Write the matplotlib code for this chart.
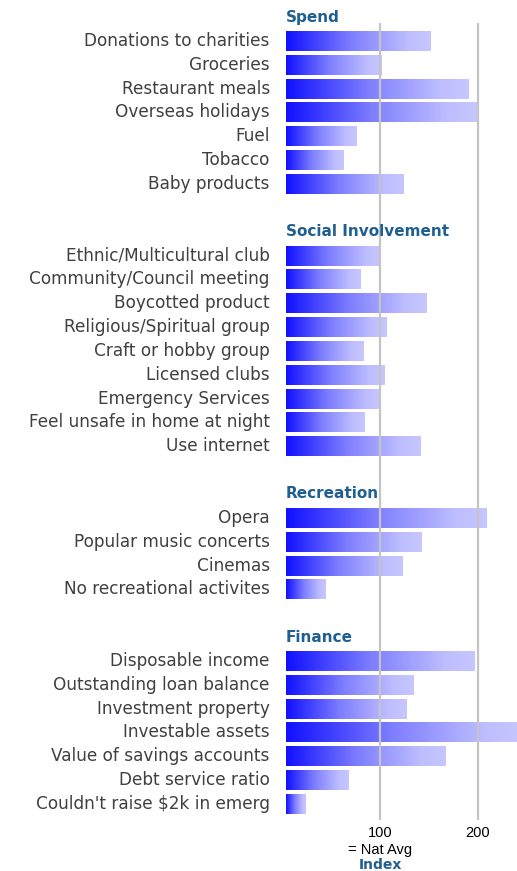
import matplotlib
matplotlib.use("Agg")
import matplotlib.pyplot as plt
import numpy as np
from matplotlib.colors import LinearSegmentedColormap

# ---- data ----
group_names = ["Spend", "Social Involvement", "Recreation", "Finance"]

spend_labels = ["Donations to charities", "Groceries", "Restaurant meals",
                "Overseas holidays", "Fuel", "Tobacco", "Baby products"]
spend_values = [152, 101, 191, 199, 76, 62, 124]

social_labels = ["Ethnic/Multicultural club", "Community/Council meeting",
                 "Boycotted product", "Religious/Spiritual group",
                 "Craft or hobby group", "Licensed clubs", "Emergency Services",
                 "Feel unsafe in home at night", "Use internet"]
social_values = [100, 80, 147, 106, 83, 104, 100, 84, 141]

recreation_labels = ["Opera", "Popular music concerts", "Cinemas",
                     "No recreational activites"]
recreation_values = [209, 142, 123, 44]

finance_labels = ["Disposable income", "Outstanding loan balance",
                  "Investment property", "Investable assets",
                  "Value of savings accounts", "Debt service ratio",
                  "Couldn't raise $2k in emerg"]
finance_values = [197, 134, 127, 245, 167, 67, 23]

tick_values = [100, 200]
tick_labels = ["100", "200"]

groups = [
    (group_names[0], spend_labels, spend_values),
    (group_names[1], social_labels, social_values),
    (group_names[2], recreation_labels, recreation_values),
    (group_names[3], finance_labels, finance_values),
]

# ---- style ----
W, H = 517, 871
fig = plt.figure(figsize=(W / 100, H / 100), dpi=100)
ax_left, ax_right = 286, 517
ax_top, ax_bot = 23, 820
ax = fig.add_axes([ax_left / W, 1 - ax_bot / H, (ax_right - ax_left) / W, (ax_bot - ax_top) / H])

XMIN, XMAX = 3.2, 240.3
ax.set_xlim(XMIN, XMAX)
ax.set_ylim(33.67, 0.25)

cmap = LinearSegmentedColormap.from_list(
    "bars", [(0.0, "#1010FF"), (0.45, "#7E7EFF"), (0.85, "#BEBEFF"), (1.0, "#C6C6FF")])
grad = np.linspace(0, 1, 256).reshape(1, -1)

header_color = "#1F5F91"
label_color = "#404040"
LABEL_FONT = ["DejaVu Sans"]
ARIAL = ["Liberation Sans", "DejaVu Sans"]

row = 0
bar_h = 0.84
for gname, labels, values in groups:
    ax.text(XMIN, row, gname, ha="left", va="center", fontsize=11,
            fontweight="bold", color=header_color, family=LABEL_FONT,
            clip_on=False, zorder=5)
    row += 1
    for lab, val in zip(labels, values):
        bars = ax.barh(row, val - XMIN, left=XMIN, height=bar_h,
                       color="none", edgecolor="none")
        patch = bars.patches[0]
        im = ax.imshow(grad, cmap=cmap, aspect="auto",
                       extent=[XMIN, val, row + bar_h / 2, row - bar_h / 2],
                       zorder=2)
        im.set_clip_path(patch)
        ax.text(-0.07, row, lab, transform=ax.get_yaxis_transform(),
                ha="right", va="center", fontsize=12.2, color=label_color,
                family=LABEL_FONT)
        row += 1
    row += 1

for tv in tick_values:
    ax.axvline(tv, color="#C4C4C4", lw=1.6, zorder=3)

ax.set_xticks(tick_values)
ax.set_xticklabels(tick_labels, fontsize=10.5, family=ARIAL)
ax.tick_params(axis="x", length=0, pad=4)
ax.set_yticks([])
for s in ax.spines.values():
    s.set_visible(False)

fig.text(380 / W, 1 - 850 / H, "= Nat Avg", ha="center", va="center",
         fontsize=10.5, color="black", family=ARIAL)
fig.text(380 / W, 1 - 865 / H, "Index", ha="center", va="center",
         fontsize=10, fontweight="bold", color=header_color, family=LABEL_FONT)

fig.savefig("out.png", dpi=100)
